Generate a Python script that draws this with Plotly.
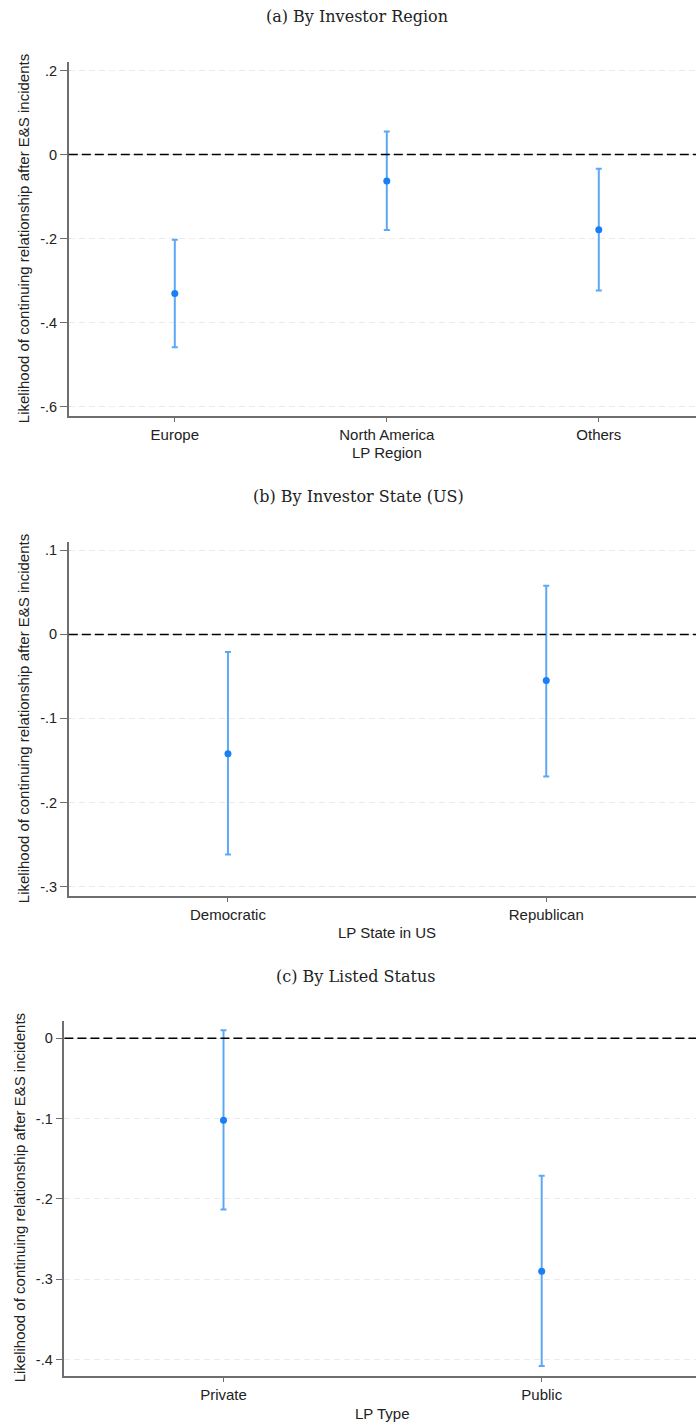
import plotly.graph_objects as go

W, H = 696, 1423

# ---------------- data ----------------
region_cats = ["Europe", "North America", "Others"]
region_est = [-0.331, -0.063, -0.179]
region_lo = [-0.459, -0.180, -0.324]
region_hi = [-0.203, 0.055, -0.034]

state_cats = ["Democratic", "Republican"]
state_est = [-0.142, -0.055]
state_lo = [-0.262, -0.169]
state_hi = [-0.021, 0.058]

type_cats = ["Private", "Public"]
type_est = [-0.102, -0.290]
type_lo = [-0.213, -0.408]
type_hi = [0.010, -0.171]

region_ticks = [0.2, 0.0, -0.2, -0.4, -0.6]
region_ticklabels = [".2", "0", "-.2", "-.4", "-.6"]
state_ticks = [0.1, 0.0, -0.1, -0.2, -0.3]
state_ticklabels = [".1", "0", "-.1", "-.2", "-.3"]
type_ticks = [0.0, -0.1, -0.2, -0.3, -0.4]
type_ticklabels = ["0", "-.1", "-.2", "-.3", "-.4"]

titles = ["(a) By Investor Region", "(b) By Investor State (US)", "(c) By Listed Status"]
xtitles = ["LP Region", "LP State in US", "LP Type"]
ytitle = "Likelihood of continuing relationship after E&S incidents"

# ---------------- style ----------------
MARKER = "#1a7ff5"
BAR = "#5ca8f6"
AXIS = "#6e6e6e"
GRID = "#ebebeb"
SANS = "Liberation Sans, Arial, sans-serif"
SERIF = "DejaVu Serif, serif"


def py(px):
    return 1 - px / H


def pxx(px):
    return px / W


panels = [
    dict(cats=region_cats, est=region_est, lo=region_lo, hi=region_hi,
         ticks=region_ticks, ticklabels=region_ticklabels, spacing=212.0,
         yr=[-0.622, 0.221], top=61.7, bot=415.7, left=68.8,
         title_y=16.7, title_x=357, xt_y=452.7, xt_x=386.5, yt_x=23.5),
    dict(cats=state_cats, est=state_est, lo=state_lo, hi=state_hi,
         ticks=state_ticks, ticklabels=state_ticklabels, spacing=318.3,
         yr=[-0.311, 0.1103], top=541.7, bot=895.7, left=68.8,
         title_y=496.7, title_x=358, xt_y=932.7, xt_x=386.5, yt_x=23.5),
    dict(cats=type_cats, est=type_est, lo=type_lo, hi=type_hi,
         ticks=type_ticks, ticklabels=type_ticklabels, spacing=318.2,
         yr=[-0.420, 0.0216], top=1021.0, bot=1375.7, left=64.4,
         title_y=976.0, title_x=355, xt_y=1413.3, xt_x=382, yt_x=19.0),
]

fig = go.Figure()
annotations = []
shapes = []

for i, p in enumerate(panels):
    n = len(p["cats"])
    xs = list(range(1, n + 1))
    xa = "x" if i == 0 else f"x{i+1}"
    ya = "y" if i == 0 else f"y{i+1}"
    xkey = "xaxis" if i == 0 else f"xaxis{i+1}"
    ykey = "yaxis" if i == 0 else f"yaxis{i+1}"

    # the original image is cut on the right, so the axis runs to the figure edge
    xmax = 0.5 + (W - p["left"]) / p["spacing"]

    err_plus = [h - e for h, e in zip(p["hi"], p["est"])]
    err_minus = [e - l for e, l in zip(p["est"], p["lo"])]

    fig.add_trace(go.Scatter(
        x=xs, y=p["est"], mode="markers", xaxis=xa, yaxis=ya,
        marker=dict(color=MARKER, size=7),
        error_y=dict(type="data", symmetric=False, array=err_plus, arrayminus=err_minus,
                     color=BAR, thickness=2, width=3),
        showlegend=False, cliponaxis=False,
    ))

    fig.layout[xkey] = dict(
        domain=[pxx(p["left"]), 1.0], range=[0.5, xmax], anchor=ya,
        tickmode="array", tickvals=xs, ticktext=p["cats"],
        showline=True, linecolor=AXIS, linewidth=1.5,
        ticks="outside", ticklen=5, tickcolor=AXIS, tickwidth=1,
        showgrid=False, zeroline=False,
        tickfont=dict(family=SANS, size=15, color="#222222"),
        fixedrange=True,
    )
    fig.layout[ykey] = dict(
        domain=[py(p["bot"]), py(p["top"])], range=p["yr"], anchor=xa,
        tickmode="array", tickvals=p["ticks"], ticktext=p["ticklabels"],
        showline=True, linecolor=AXIS, linewidth=1.5,
        ticks="outside", ticklen=7, tickcolor=AXIS, tickwidth=1,
        showgrid=True, gridcolor=GRID, gridwidth=1, griddash="6px,4px",
        zeroline=False,
        tickfont=dict(family=SANS, size=14.5, color="#222222"),
        fixedrange=True,
    )

    # zero reference line
    shapes.append(dict(type="line", xref=f"{xa} domain", yref=ya,
                       x0=0, x1=1, y0=0, y1=0,
                       line=dict(color="black", width=1.5, dash="9px,4px"),
                       layer="above"))

    annotations.append(dict(text=titles[i], x=pxx(p["title_x"]), y=py(p["title_y"]),
                            xref="paper", yref="paper", showarrow=False,
                            xanchor="center", yanchor="middle",
                            font=dict(family=SERIF, size=16, color="#222222")))
    annotations.append(dict(text=xtitles[i], x=pxx(p["xt_x"]), y=py(p["xt_y"]),
                            xref="paper", yref="paper", showarrow=False,
                            xanchor="center", yanchor="middle",
                            font=dict(family=SANS, size=15, color="#222222")))
    annotations.append(dict(text=ytitle, x=pxx(p["yt_x"]), y=py((p["top"] + p["bot"]) / 2),
                            xref="paper", yref="paper", showarrow=False, textangle=-90,
                            xanchor="center", yanchor="middle",
                            font=dict(family=SANS, size=15, color="#222222")))

fig.update_layout(
    width=W, height=H,
    margin=dict(l=0, r=0, t=0, b=0),
    paper_bgcolor="white", plot_bgcolor="white",
    annotations=annotations, shapes=shapes,
    showlegend=False,
)

fig.write_html("out.html", config={"displayModeBar": False})
